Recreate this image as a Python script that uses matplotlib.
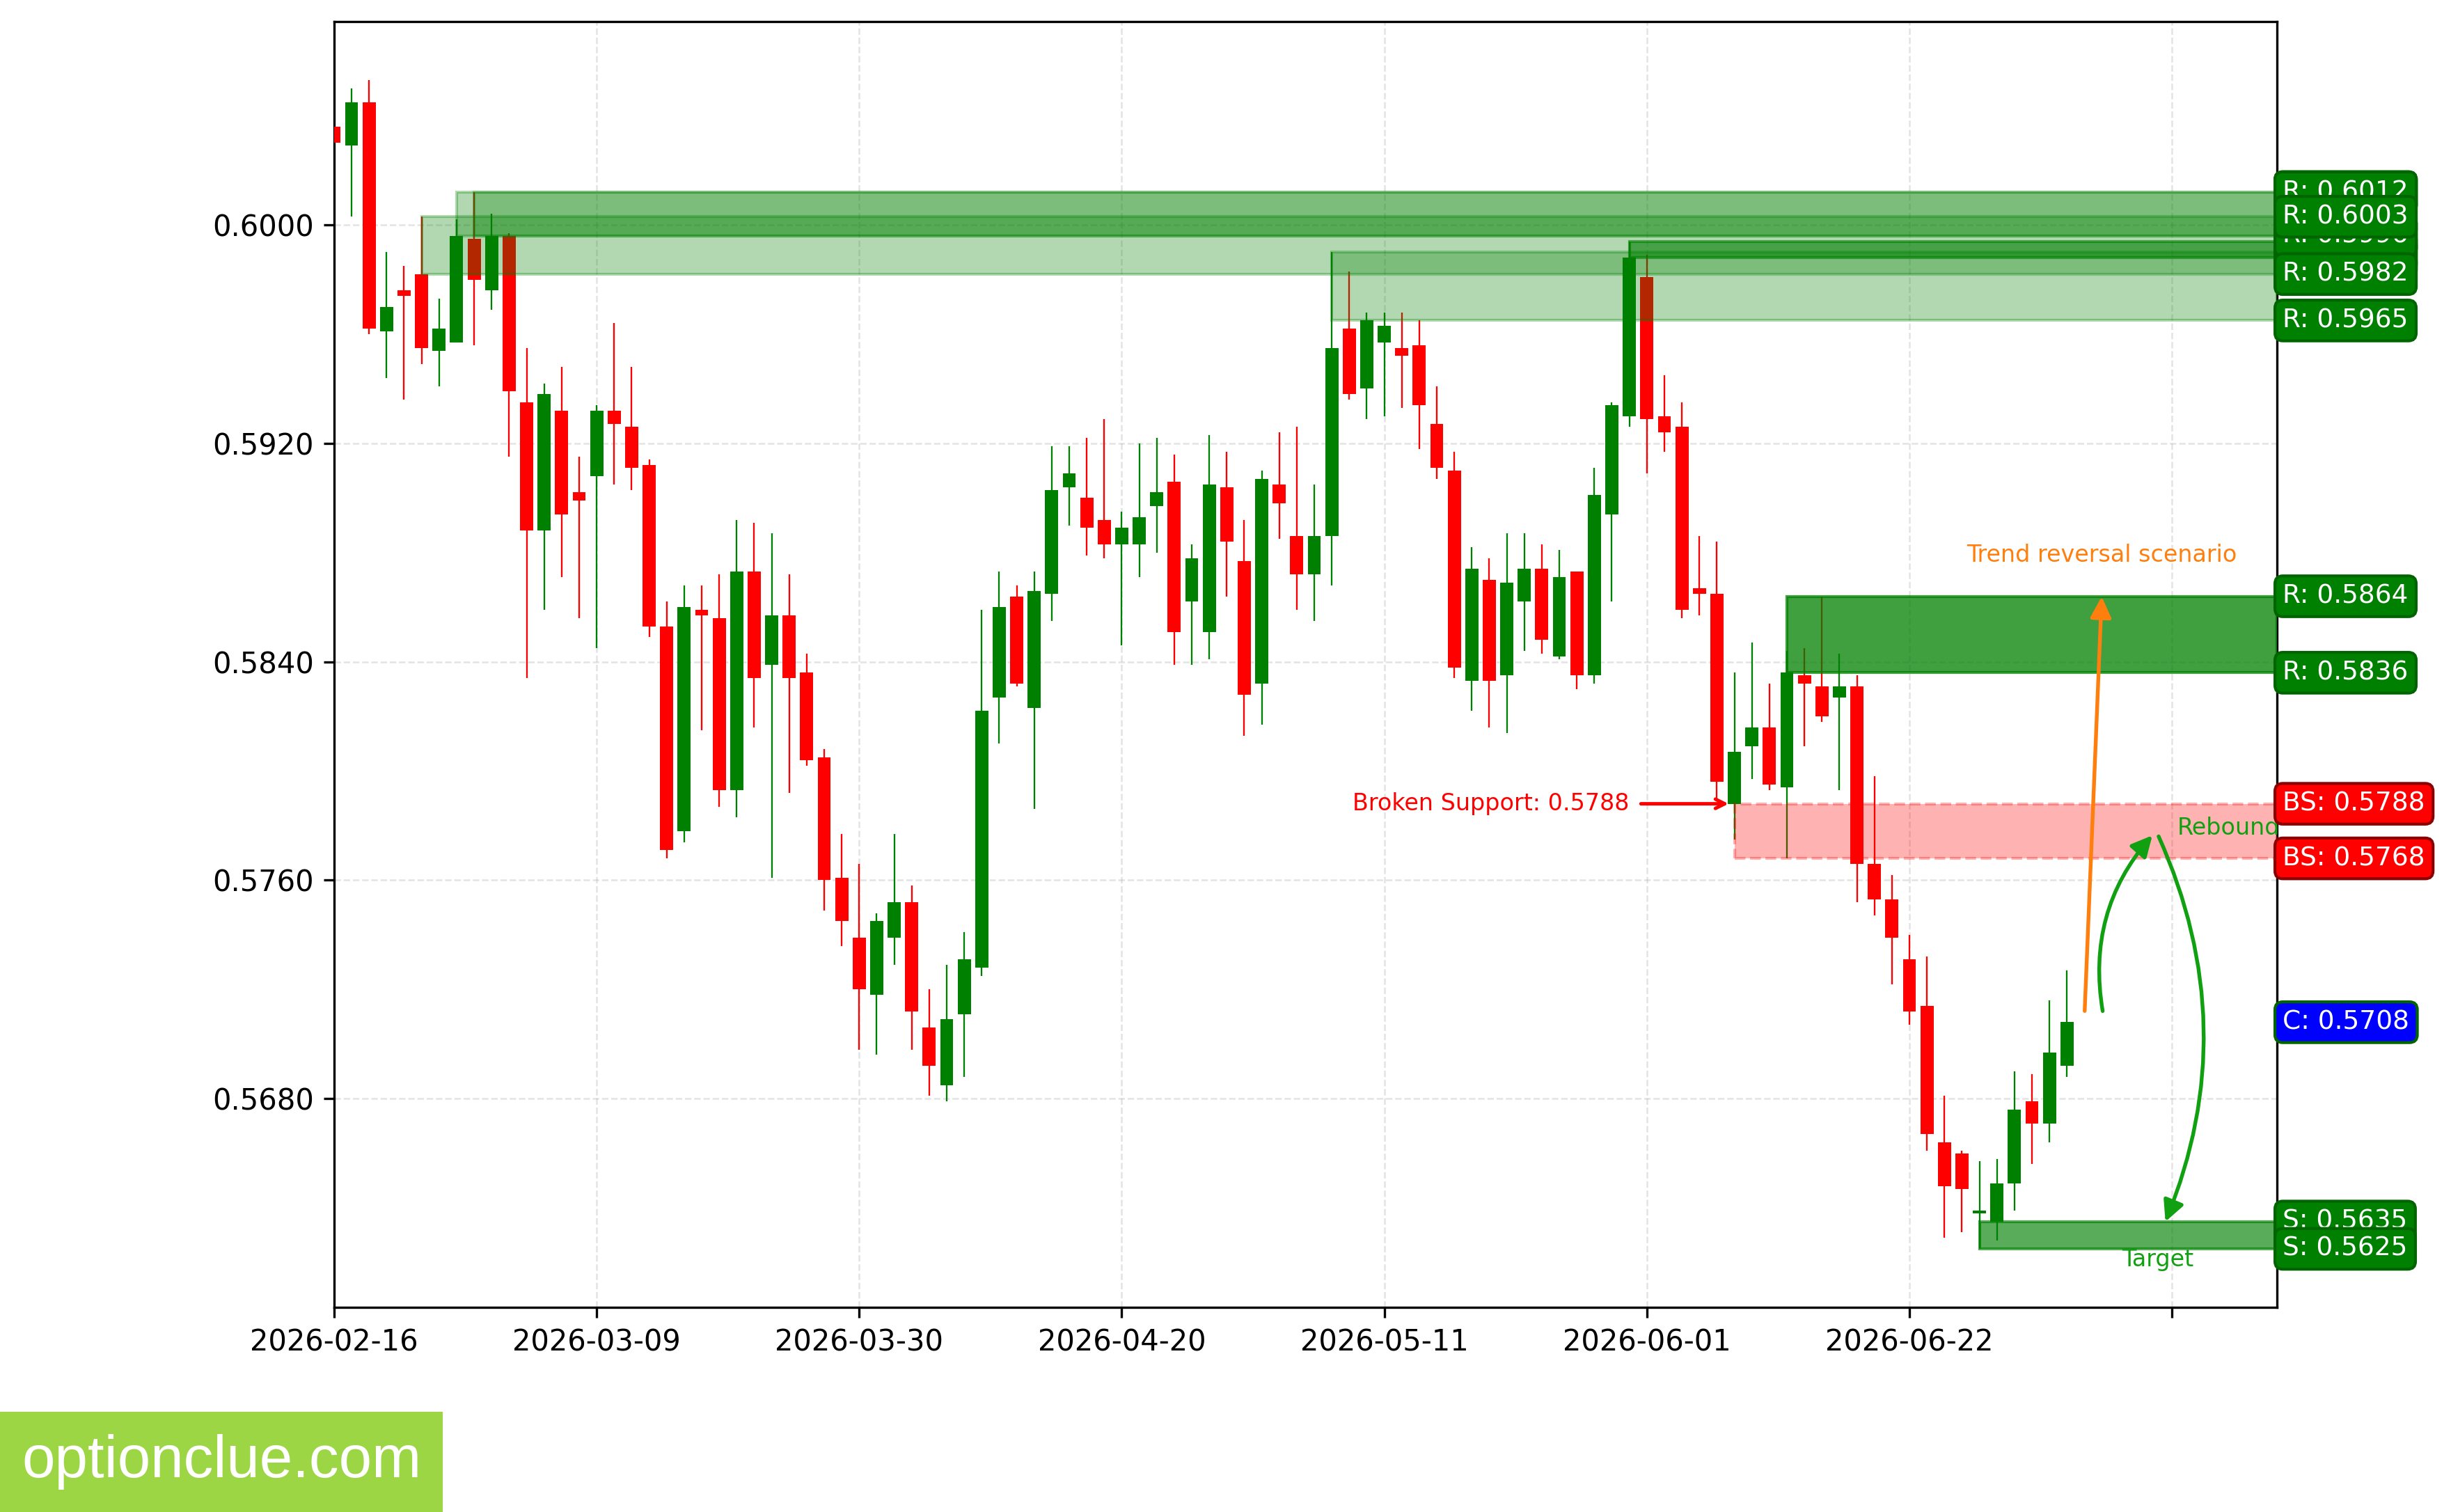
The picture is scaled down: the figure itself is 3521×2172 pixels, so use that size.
import matplotlib.pyplot as plt
from matplotlib.patches import Rectangle
import numpy as np

# daily OHLC, one candle per trading day from 2026-02-16
opens = [0.6036, 0.6029, 0.6045, 0.5961, 0.5976, 0.5982, 0.5954, 0.5957, 0.5995, 0.5976,
         0.5996, 0.5935, 0.5888, 0.5932, 0.5902, 0.5908, 0.5932, 0.5926, 0.5912, 0.5853,
         0.5778, 0.5859, 0.5856, 0.5793, 0.5873, 0.5839, 0.5857, 0.5836, 0.5805, 0.5761,
         0.5739, 0.5718, 0.5739, 0.5752, 0.5706, 0.5685, 0.5711, 0.5728, 0.5827, 0.5864,
         0.5823, 0.5865, 0.5904, 0.5900, 0.5892, 0.5883, 0.5883, 0.5897, 0.5906, 0.5862,
         0.5851, 0.5904, 0.5877, 0.5832, 0.5905, 0.5886, 0.5872, 0.5886, 0.5962, 0.5940,
         0.5957, 0.5955, 0.5956, 0.5927, 0.5910, 0.5833, 0.5870, 0.5835, 0.5862, 0.5874,
         0.5842, 0.5873, 0.5835, 0.5894, 0.5930, 0.5981, 0.5930, 0.5926, 0.5867, 0.5865,
         0.5788, 0.5809, 0.5816, 0.5794, 0.5835, 0.5831, 0.5827, 0.5831, 0.5766, 0.5753,
         0.5731, 0.5714, 0.5664, 0.5660, 0.5638, 0.5635, 0.5649, 0.5679, 0.5671, 0.5692]
highs = [0.6037, 0.6050, 0.6053, 0.5990, 0.5985, 0.6003, 0.5973, 0.6002, 0.6012, 0.6004,
         0.5997, 0.5955, 0.5942, 0.5948, 0.5915, 0.5934, 0.5964, 0.5948, 0.5914, 0.5862,
         0.5868, 0.5868, 0.5872, 0.5892, 0.5891, 0.5887, 0.5872, 0.5843, 0.5808, 0.5777,
         0.5766, 0.5748, 0.5777, 0.5758, 0.5720, 0.5729, 0.5741, 0.5859, 0.5873, 0.5868,
         0.5873, 0.5919, 0.5919, 0.5922, 0.5929, 0.5895, 0.5920, 0.5922, 0.5916, 0.5883,
         0.5923, 0.5917, 0.5892, 0.5910, 0.5924, 0.5926, 0.5905, 0.5990, 0.5983, 0.5968,
         0.5968, 0.5968, 0.5965, 0.5941, 0.5917, 0.5882, 0.5878, 0.5887, 0.5887, 0.5883,
         0.5881, 0.5873, 0.5911, 0.5935, 0.5994, 0.5989, 0.5945, 0.5935, 0.5886, 0.5884,
         0.5836, 0.5847, 0.5832, 0.5844, 0.5845, 0.5864, 0.5843, 0.5835, 0.5798, 0.5762,
         0.5740, 0.5732, 0.5681, 0.5661, 0.5657, 0.5658, 0.5690, 0.5689, 0.5716, 0.5727]
lows = [0.6028, 0.6003, 0.5960, 0.5944, 0.5936, 0.5949, 0.5941, 0.5957, 0.5956, 0.5969,
        0.5915, 0.5834, 0.5859, 0.5871, 0.5856, 0.5845, 0.5905, 0.5903, 0.5849, 0.5768,
        0.5774, 0.5815, 0.5787, 0.5783, 0.5816, 0.5761, 0.5792, 0.5802, 0.5749, 0.5736,
        0.5698, 0.5696, 0.5729, 0.5698, 0.5681, 0.5679, 0.5688, 0.5725, 0.5810, 0.5831,
        0.5786, 0.5855, 0.5890, 0.5879, 0.5878, 0.5846, 0.5871, 0.5880, 0.5839, 0.5839,
        0.5841, 0.5864, 0.5813, 0.5817, 0.5885, 0.5859, 0.5855, 0.5868, 0.5936, 0.5929,
        0.5930, 0.5933, 0.5918, 0.5907, 0.5834, 0.5822, 0.5816, 0.5814, 0.5844, 0.5843,
        0.5841, 0.5830, 0.5832, 0.5862, 0.5926, 0.5909, 0.5917, 0.5856, 0.5857, 0.5789,
        0.5775, 0.5797, 0.5793, 0.5768, 0.5809, 0.5818, 0.5793, 0.5752, 0.5747, 0.5722,
        0.5707, 0.5661, 0.5629, 0.5631, 0.5625, 0.5628, 0.5639, 0.5656, 0.5664, 0.5688]
closes = [0.6030, 0.6045, 0.5962, 0.5970, 0.5974, 0.5955, 0.5962, 0.5996, 0.5980, 0.5996,
          0.5939, 0.5888, 0.5938, 0.5894, 0.5899, 0.5932, 0.5927, 0.5911, 0.5853, 0.5771,
          0.5860, 0.5857, 0.5793, 0.5873, 0.5834, 0.5857, 0.5834, 0.5804, 0.5760, 0.5745,
          0.5720, 0.5745, 0.5752, 0.5712, 0.5692, 0.5709, 0.5731, 0.5822, 0.5860, 0.5832,
          0.5866, 0.5903, 0.5909, 0.5889, 0.5883, 0.5889, 0.5893, 0.5902, 0.5851, 0.5878,
          0.5905, 0.5884, 0.5828, 0.5907, 0.5898, 0.5872, 0.5886, 0.5955, 0.5938, 0.5965,
          0.5963, 0.5952, 0.5934, 0.5911, 0.5838, 0.5874, 0.5833, 0.5869, 0.5874, 0.5848,
          0.5871, 0.5835, 0.5901, 0.5934, 0.5988, 0.5929, 0.5924, 0.5859, 0.5865, 0.5796,
          0.5807, 0.5816, 0.5795, 0.5836, 0.5832, 0.5820, 0.5831, 0.5766, 0.5753, 0.5739,
          0.5712, 0.5667, 0.5648, 0.5647, 0.5639, 0.5649, 0.5676, 0.5671, 0.5697, 0.5708]

date_labels = ["2026-02-16", "2026-03-09", "2026-03-30", "2026-04-20",
               "2026-05-11", "2026-06-01", "2026-06-22", ""]
price_ticks = [0.5680, 0.5760, 0.5840, 0.5920, 0.6000]

# resistance / support zones: first candle, lower and upper price
zone_start = [74, 57, 8, 7, 5, 83, 80, 94]
zone_low = [0.5988, 0.5965, 0.5996, 0.5996, 0.5982, 0.5836, 0.5768, 0.5625]
zone_high = [0.5994, 0.5990, 0.6012, 0.6012, 0.6003, 0.5864, 0.5788, 0.5635]
zone_kind = ["R", "R", "R", "R", "R", "R", "BS", "S"]
zone_alpha = [0.6, 0.3, 0.3, 0.3, 0.3, 0.75, 0.3, 0.65]

current_price = 0.5708
broken_level = 0.5788
target_level = 0.5635
rebound_level = 0.5778
reversal_level = 0.5864

o = np.array(opens)
h = np.array(highs)
l = np.array(lows)
c = np.array(closes)
x = np.arange(len(o))
n = len(o)
x_right = n + 11

fig = plt.figure(figsize=(3521 / 300, 2172 / 300), dpi=300)
ax = fig.add_axes([0.1363, 0.1354, 0.7927, 0.8502])

cols = np.where(c >= o, "green", "red")
ax.vlines(x, l, h, colors=cols, lw=0.55, zorder=2)
body = np.maximum(np.abs(c - o), 0.00004)
ax.bar(x, body, bottom=np.minimum(o, c), width=0.75, color=cols, linewidth=0, zorder=3)

# zones and their price tags
tag_style = {"R": ("green", "darkgreen"), "S": ("green", "darkgreen"), "BS": ("red", "darkred")}


def tag(y, text, fc, ec):
    ax.annotate(text, xy=(1.0, y), xycoords=("axes fraction", "data"),
                xytext=(2, 0), textcoords="offset points", ha="left", va="center",
                fontsize=9, color="white", annotation_clip=False, zorder=10,
                bbox=dict(boxstyle="round,pad=0.3", fc=fc, ec=ec, lw=1))


for s, lo, hi, k, a in zip(zone_start, zone_low, zone_high, zone_kind, zone_alpha):
    col = "red" if k == "BS" else "green"
    ls = "--" if k == "BS" else "-"
    ax.add_patch(Rectangle((s, lo), x_right - s, hi - lo, facecolor=col, edgecolor=col,
                           alpha=a, lw=1, linestyle=ls, zorder=4))
    fc, ec = tag_style[k]
    tag(hi, f"{k}: {hi:.4f}", fc, ec)
    tag(lo, f"{k}: {lo:.4f}", fc, ec)

tag(current_price, f"C: {current_price:.4f}", "blue", "darkgreen")

# broken support note
ax.annotate(f"Broken Support: {broken_level:.4f}", xy=(80, broken_level),
            xytext=(74, broken_level), ha="right", va="center", fontsize=8, color="red",
            arrowprops=dict(arrowstyle="->", color="red", lw=1.2), zorder=6)

# trend reversal scenario
ax.annotate("", xy=(101, reversal_level + 0.0002), xytext=(100, current_price + 0.0002),
            arrowprops=dict(arrowstyle="-|>", color="#ff7f0e", lw=1.3, mutation_scale=15),
            zorder=6)
ax.text(101, reversal_level + 0.0015, "Trend reversal scenario", color="#ff7f0e",
        fontsize=8, ha="center", va="center", zorder=6)

# rebound then target
ax.annotate("", xy=(104.1, rebound_level), xytext=(101.1, current_price + 0.0002),
            arrowprops=dict(arrowstyle="-|>", color="#11a011", lw=1.3, mutation_scale=15,
                            connectionstyle="arc3,rad=-0.25"), zorder=6)
ax.annotate("", xy=(104.5, target_level - 0.0002), xytext=(104.1, rebound_level),
            arrowprops=dict(arrowstyle="-|>", color="#11a011", lw=1.3, mutation_scale=15,
                            connectionstyle="arc3,rad=-0.22"), zorder=6)
ax.text(105.3, rebound_level + 0.0001, "Rebound", color="#11a011", fontsize=8,
        ha="left", va="center", zorder=6)
ax.text(104.2, target_level - 0.0014, "Target", color="#11a011", fontsize=8,
        ha="center", va="center", zorder=6)

ax.set_xlim(0, x_right)
rng = h.max() - l.min()
ax.set_ylim(l.min() - 0.05 * rng, h.max() + 0.05 * rng)
ax.set_xticks(np.arange(0, x_right, 15))
ax.set_xticklabels(date_labels, fontsize=10)
ax.set_yticks(price_ticks)
ax.set_yticklabels([f"{p:.4f}" for p in price_ticks], fontsize=10)
ax.grid(True, linestyle="--", lw=0.6, alpha=0.35)
ax.set_axisbelow(True)

# site logo
fig.patches.append(Rectangle((0, 0), 636 / 3521, 144 / 2172, transform=fig.transFigure,
                             facecolor="#9dd644", edgecolor="none"))
fig.text(31 / 3521, 50 / 2172, "optionclue.com", color="white", fontsize=20.5,
         family="Liberation Sans", va="baseline")

fig.savefig("out.png", dpi=300)
